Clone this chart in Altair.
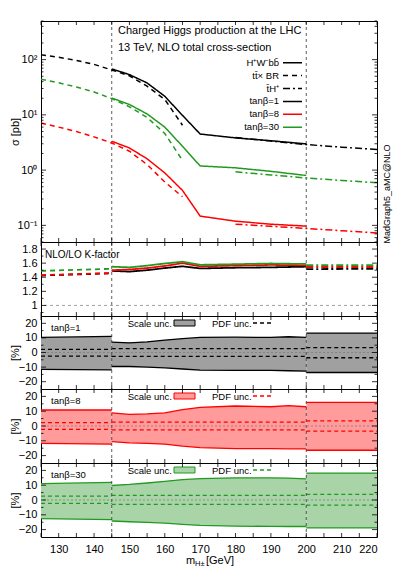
import altair as alt
import pandas as pd

FONT = "Liberation Sans"

# ---------------- data ----------------
# sigma [pb]: tt x BR (dashed), H+W-bb (solid), tH+ (dash-dot)
m_tt = [125, 130, 135, 140, 145, 150, 155, 160, 165]
tt_tb1 = [122, 110, 97, 82, 65, 51, 33, 19, 6.5]
tt_tb8 = [7.1, 6.0, 5.0, 4.0, 3.1, 2.2, 1.26, 0.61, 0.33]
tt_tb30 = [44, 38, 32, 26, 19.7, 14, 9.0, 4.6, 1.5]

m_hw = [145, 150, 155, 160, 165, 170, 180, 190, 200]
hw_tb1 = [68, 53.5, 37.8, 21.7, 9.8, 4.5, 3.83, 3.4, 2.98]
hw_tb8 = [3.33, 2.52, 1.6, 0.89, 0.43, 0.147, 0.119, 0.105, 0.097]
hw_tb30 = [20.2, 15.4, 10.4, 6.0, 2.7, 1.19, 1.1, 0.95, 0.80]

m_th = [180, 190, 200, 210, 220]
th_tb1 = [3.9, 3.35, 2.9, 2.6, 2.36]
th_tb8 = [0.105, 0.096, 0.088, 0.080, 0.073]
th_tb30 = [0.93, 0.82, 0.72, 0.65, 0.59]

# NLO/LO K-factor
mk_tt = [125, 145]
k_tt_tb1 = [1.425, 1.455]
k_tt_tb8 = [1.43, 1.46]
k_tt_tb30 = [1.49, 1.52]
mk_hw = [145, 150, 155, 160, 165, 170, 180, 190, 200]
k_hw_tb1 = [1.49, 1.48, 1.50, 1.53, 1.555, 1.525, 1.535, 1.54, 1.55]
k_hw_tb8 = [1.50, 1.51, 1.53, 1.56, 1.60, 1.555, 1.565, 1.575, 1.568]
k_hw_tb30 = [1.55, 1.54, 1.565, 1.595, 1.62, 1.576, 1.585, 1.595, 1.588]
mk_th = [200, 220]
k_th_tb1 = [1.515, 1.52]
k_th_tb8 = [1.545, 1.545]
k_th_tb30 = [1.57, 1.57]

# scale uncertainty bands [%], three mass segments
ms_1 = [125, 145]
ms_2 = [145, 150, 155, 160, 165, 170, 180, 190, 195, 200]
ms_3 = [200, 220]
su_tb1 = [[10.3, 11.0], [7.1, 6.6, 7.3, 8.5, 9.5, 10.3, 10.5, 10.3, 10.8, 10.3], [13.3, 13.3]]
sl_tb1 = [[-11.6, -11.9], [-9.6, -9.6, -10.0, -10.5, -11.3, -12.1, -12.3, -12.2, -12.5, -12.8], [-13.7, -13.7]]
su_tb8 = [[10.8, 10.8], [8.9, 7.8, 8.2, 8.9, 11.0, 12.6, 13.5, 13.0, 13.7, 13.0], [16.0, 16.0]]
sl_tb8 = [[-11.8, -12.3], [-10.5, -11.4, -11.8, -12.3, -13.6, -14.6, -15.3, -15.3, -15.4, -15.5], [-16.4, -16.4]]
su_tb30 = [[11.0, 11.9], [9.8, 10.5, 11.5, 12.6, 13.7, 14.5, 15.0, 15.0, 14.8, 14.3], [18.2, 18.2]]
sl_tb30 = [[-12.6, -13.3], [-14.2, -14.7, -15.1, -15.6, -16.5, -17.2, -17.7, -17.8, -17.9, -17.9], [-18.9, -18.9]]

# PDF uncertainty per segment [%]
seg_edges = [(125, 145), (145, 200), (200, 220)]
pu_tb1, pl_tb1 = [2.2, 2.6, 3.3], [-2.5, -2.7, -3.6]
pu_tb8, pl_tb8 = [2.3, 2.6, 3.4], [-2.3, -2.6, -3.4]
pu_tb30, pl_tb30 = [2.6, 3.1, 3.8], [-2.3, -3.0, -3.5]

# axes / ticks
x_labels = [130, 140, 150, 160, 170, 180, 190, 200, 210, 220]
x_ticks = [125, 130, 135, 140, 145, 150, 155, 160, 165, 170, 175, 180, 185, 190, 195, 200, 205, 210, 215, 220]
y_top_major = [0.1, 1, 10, 100]
y_top_minor = [0.05, 0.06, 0.07, 0.08, 0.09, 0.2, 0.3, 0.4, 0.5, 0.6, 0.7, 0.8, 0.9,
               2, 3, 4, 5, 6, 7, 8, 9, 20, 30, 40, 50, 60, 70, 80, 90, 200, 300, 400, 500]
k_major = [1.0, 1.2, 1.4, 1.6, 1.8]
k_minor = [0.9, 1.1, 1.3, 1.5, 1.7]
s_major = [-20, -10, 0, 10, 20]
s_minor = [-15, -5, 5, 15]
vlines = [145, 200]

legend_labels = ["H⁺W⁻bb̄", "tt̄× BR", "t̄H⁺", "tanβ=1", "tanβ=8", "tanβ=30"]
legend_proc = ["HW", "tt", "tH", "HW", "HW", "HW"]
legend_tb = ["1", "1", "1", "1", "8", "30"]

# ---------------- style ----------------
W = 336
H_TOP, H_K = 221, 74
H_S = [73, 74, 74]
TL, TS = 4, 2.5
BLACK, RED, GREEN = "#000000", "#ff0000", "#229922"
color_scale = alt.Scale(domain=["1", "8", "30"], range=[BLACK, RED, GREEN])
dash_scale = alt.Scale(domain=["HW", "tt", "tH"], range=[[1, 0], [5, 4], [7, 3, 2, 3]])
xs = alt.Scale(domain=[125, 220], nice=False, zero=False)

X_AXIS_BOTTOM = alt.Axis(values=x_labels, format="d", ticks=False, domain=False,
                         grid=False, labelPadding=6)


def text_layer(txt, x, y, size=10, align="left", angle=0, baseline="middle"):
    kw = dict(font=FONT, fontSize=size, align=align, baseline=baseline, color="black")
    if angle:
        kw["angle"] = angle
    return alt.Chart(pd.DataFrame({"t": [txt]})).mark_text(**kw).encode(
        text="t:N", x=alt.value(x), y=alt.value(y))


def make_panel(h, yscale, yaxis, ytitle, ymajor, yminor, xaxis=None):
    """Helpers that share identical axes across all layers of a panel."""
    def X(field="m"):
        return alt.X(f"{field}:Q", scale=xs, axis=xaxis, title=None)

    def Y(field="v"):
        return alt.Y(f"{field}:Q", scale=yscale, axis=yaxis, title=ytitle)

    def ticks():
        out = []
        xd = pd.DataFrame({"v": x_ticks})
        r = alt.Chart(xd).mark_rule(color="black", strokeWidth=0.8)
        out.append(r.encode(x=X("v"), y=alt.value(0), y2=alt.value(TL)))
        out.append(r.encode(x=X("v"), y=alt.value(h - TL), y2=alt.value(h)))
        for vals, ln in ((ymajor, TL + 1), (yminor, TS)):
            yd = pd.DataFrame({"v": vals})
            r = alt.Chart(yd).mark_rule(color="black", strokeWidth=0.8)
            out.append(r.encode(y=Y("v"), x=alt.value(0), x2=alt.value(ln)))
            out.append(r.encode(y=Y("v"), x=alt.value(W - ln), x2=alt.value(W)))
        return out

    def vline():
        return alt.Chart(pd.DataFrame({"v": vlines})).mark_rule(
            color="#333333", strokeDash=[3, 3], strokeWidth=0.8).encode(x=X("v"))

    return X, Y, ticks, vline


# ---------------- top panel ----------------
rows = []
for proc, ms, ser in (("tt", m_tt, {"1": tt_tb1, "8": tt_tb8, "30": tt_tb30}),
                      ("HW", m_hw, {"1": hw_tb1, "8": hw_tb8, "30": hw_tb30}),
                      ("tH", m_th, {"1": th_tb1, "8": th_tb8, "30": th_tb30})):
    for tb, vals in ser.items():
        for m, v in zip(ms, vals):
            rows.append(dict(m=m, v=v, tb=tb, proc=proc, key=proc + tb))
top_df = pd.DataFrame(rows)

ys_top = alt.Scale(type="log", domain=[0.05, 500], nice=False)
label_expr = ("datum.value >= 99 ? '10²' : datum.value >= 9 ? '10¹' : "
              "datum.value >= 0.9 ? '10⁰' : '10⁻¹'")
top_axis = alt.Axis(values=y_top_major, labelExpr=label_expr, ticks=False,
                    domain=False, grid=False, labelPadding=4,
                    titleX=-21, titleY=H_TOP / 2, titleBaseline="bottom", titleAlign="center")
X0, Y0, ticks0, vline0 = make_panel(H_TOP, ys_top, top_axis, "σ [pb]", y_top_major, y_top_minor)

curves = alt.Chart(top_df).mark_line(strokeWidth=1.5).encode(
    x=X0(), y=Y0("v"),
    color=alt.Color("tb:N", scale=color_scale, legend=None),
    strokeDash=alt.StrokeDash("proc:N", scale=dash_scale, legend=None),
    detail="key:N",
)

leg_df = pd.DataFrame({"label": legend_labels, "proc": legend_proc, "tb": legend_tb,
                       "i": list(range(len(legend_labels)))})
leg_base = alt.Chart(leg_df).transform_calculate(py="41.7 + datum.i * 12.9")
leg_lines = leg_base.mark_rule(strokeWidth=1.5).encode(
    x=alt.value(242), x2=alt.value(261),
    y=alt.Y("py:Q", scale=None, axis=None, title=None),
    color=alt.Color("tb:N", scale=color_scale, legend=None),
    strokeDash=alt.StrokeDash("proc:N", scale=dash_scale, legend=None),
)
leg_text = leg_base.mark_text(font=FONT, fontSize=9.5, align="right", baseline="middle",
                              color="black").encode(
    x=alt.value(238), y=alt.Y("py:Q", scale=None, axis=None, title=None), text="label:N")

top = alt.layer(
    vline0(), curves, leg_lines, leg_text,
    text_layer("Charged Higgs production at the LHC", 77, 9.5, 11),
    text_layer("13 TeV, NLO total cross-section", 77, 27, 11),
    text_layer("MadGraph5_aMC@NLO", 346, 173, 9, align="center", angle=270),
    *ticks0(),
).properties(width=W, height=H_TOP)

# ---------------- K-factor panel ----------------
rows = []
for proc, ms, ser in (("tt", mk_tt, {"1": k_tt_tb1, "8": k_tt_tb8, "30": k_tt_tb30}),
                      ("HW", mk_hw, {"1": k_hw_tb1, "8": k_hw_tb8, "30": k_hw_tb30}),
                      ("tH", mk_th, {"1": k_th_tb1, "8": k_th_tb8, "30": k_th_tb30})):
    for tb, vals in ser.items():
        for m, v in zip(ms, vals):
            rows.append(dict(m=m, v=v, tb=tb, proc=proc, key=proc + tb))
k_df = pd.DataFrame(rows)
ys_k = alt.Scale(domain=[0.85, 1.9], nice=False, zero=False)
k_axis = alt.Axis(values=k_major, format="~g", ticks=False, domain=False,
                  grid=False, labelPadding=4)
XK, YK, ticksK, vlineK = make_panel(H_K, ys_k, k_axis, None, k_major, k_minor)
k_dash = alt.Scale(domain=["HW", "tt", "tH"], range=[[1, 0], [4, 3], [7, 2, 2, 2]])
k_curves = alt.Chart(k_df).mark_line(strokeWidth=1.8).encode(
    x=XK(), y=YK("v"),
    color=alt.Color("tb:N", scale=color_scale, legend=None),
    strokeDash=alt.StrokeDash("proc:N", scale=k_dash, legend=None),
    detail="key:N",
)
one_line = alt.Chart(pd.DataFrame({"v": [1.0]})).mark_rule(
    color="#888888", strokeDash=[3, 3], strokeWidth=0.8).encode(y=YK("v"))
kpanel = alt.layer(
    one_line, vlineK(), k_curves,
    text_layer("NLO/LO K-factor", 4, 12.5, 10),
    *ticksK(),
).properties(width=W, height=H_K)

# ---------------- scale-uncertainty panels ----------------
ys_s = alt.Scale(domain=[-25, 25], nice=False, zero=False)


def scale_panel(label, su, sl, pu, pl, lc, fc, h, bottom=False):
    s_axis = alt.Axis(values=s_major, format="d", ticks=False, domain=False,
                      grid=False, labelPadding=4,
                      titleX=-20.5, titleY=h / 2, titleBaseline="bottom", titleAlign="center")
    Xs, Ys, ticksS, vlineS = make_panel(h, ys_s, s_axis, "[%]", s_major, s_minor,
                                        X_AXIS_BOTTOM if bottom else None)
    rows = []
    for i, ms in enumerate((ms_1, ms_2, ms_3)):
        for m, u, l in zip(ms, su[i], sl[i]):
            rows.append(dict(m=m, up=u, lo=l, seg=i))
    band_df = pd.DataFrame(rows)
    rows = []
    for i, (a, b) in enumerate(seg_edges):
        for m in (a, b):
            rows.append(dict(m=m, up=pu[i], lo=pl[i], seg=i))
    pdf_df = pd.DataFrame(rows)

    band = alt.Chart(band_df).mark_area(color=fc, opacity=1).encode(
        x=Xs(), y=Ys("up"), y2="lo:Q", detail="seg:N")
    up_line = alt.Chart(band_df).mark_line(color=lc, strokeWidth=1.3).encode(
        x=Xs(), y=Ys("up"), detail="seg:N")
    lo_line = alt.Chart(band_df).mark_line(color=lc, strokeWidth=1.3).encode(
        x=Xs(), y=Ys("lo"), detail="seg:N")
    pdf_up = alt.Chart(pdf_df).mark_line(color=lc, strokeWidth=1.3, strokeDash=[4, 3]).encode(
        x=Xs(), y=Ys("up"), detail="seg:N")
    pdf_lo = alt.Chart(pdf_df).mark_line(color=lc, strokeWidth=1.3, strokeDash=[4, 3]).encode(
        x=Xs(), y=Ys("lo"), detail="seg:N")
    zero = alt.Chart(pd.DataFrame({"v": [0]})).mark_rule(
        color="#777777", strokeDash=[2, 2], strokeWidth=0.7).encode(y=Ys("v"))
    box = alt.Chart(pd.DataFrame({"a": [0]})).mark_rect(
        fill=fc, stroke=lc, strokeWidth=1).encode(
        x=alt.value(133), x2=alt.value(154), y=alt.value(4), y2=alt.value(10))
    pdf_key = alt.Chart(pd.DataFrame({"a": [0]})).mark_rule(
        color=lc, strokeWidth=1.3, strokeDash=[4, 3]).encode(
        x=alt.value(212), x2=alt.value(231), y=alt.value(7))
    layers = [band, up_line, lo_line, pdf_up, pdf_lo, zero, vlineS(), box, pdf_key,
              text_layer("Scale unc.", 131, 7.5, 9.5, align="right"),
              text_layer("PDF unc.", 171, 7.5, 9.5),
              text_layer(label, 10, 12, 9.5),
              *ticksS()]
    if bottom:
        layers += [text_layer("m", 145, h + 26.5, 11, baseline="alphabetic"),
                   text_layer("H±", 154, h + 28.5, 7.5, baseline="alphabetic"),
                   text_layer("[GeV]", 165, h + 26.5, 11, baseline="alphabetic")]
    return alt.layer(*layers).properties(width=W, height=h)


p1 = scale_panel("tanβ=1", su_tb1, sl_tb1, pu_tb1, pl_tb1, BLACK, "#a0a0a0", H_S[0])
p8 = scale_panel("tanβ=8", su_tb8, sl_tb8, pu_tb8, pl_tb8, RED, "#ff9b9b", H_S[1])
p30 = scale_panel("tanβ=30", su_tb30, sl_tb30, pu_tb30, pl_tb30, GREEN, "#a8d4a8", H_S[2], bottom=True)

chart = alt.vconcat(top, kpanel, p1, p8, p30, spacing=0, bounds="flush").properties(
    padding={"left": 0, "top": 12, "right": 5, "bottom": 0},
    background="white",
).configure_view(stroke="black", strokeWidth=1).configure_axis(
    labelFont=FONT, titleFont=FONT, labelFontSize=11, titleFontSize=11,
    labelColor="black", titleColor="black", titleFontWeight="normal",
)

chart.save("out.html", embed_options={"renderer": "svg", "actions": False})
